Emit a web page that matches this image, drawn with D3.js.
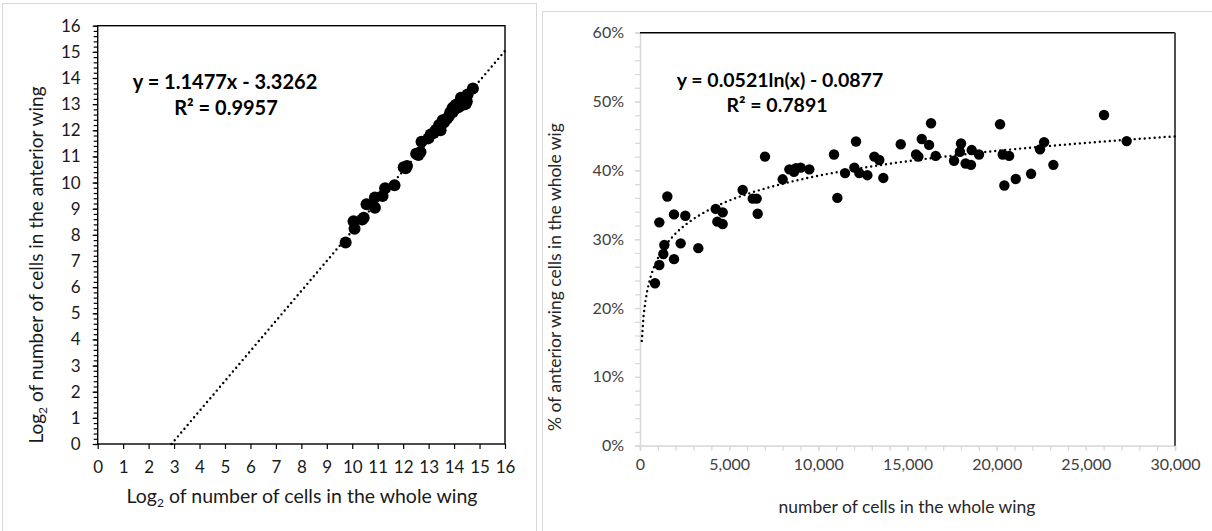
<!DOCTYPE html>
<html>
<head>
<meta charset="utf-8">
<script src="https://cdn.jsdelivr.net/npm/d3@7"></script>
<style>
  body { margin: 0; background: #fff; }
  svg { font-family: Lato, "Open Sans", sans-serif; display: block; }
</style>
</head>
<body>
<div id="svg-container"></div>
<script>
var width = 1212, height = 531;

//  DATA
// left panel: log2 of whole wing cells vs log2 of anterior wing cells
var logWhole    = [9.74, 10.05, 10.09, 10.39, 10.45, 10.56, 10.89, 10.89, 11.19, 11.29, 11.66,
                   12.02, 12.15, 12.1, 12.51, 12.6, 12.68, 12.72, 12.99, 13.08, 13.2, 13.28, 13.41,
                   13.47, 13.55, 13.6, 13.72, 13.8, 13.85, 13.94, 13.95, 14.0, 14.07, 14.1, 14.2,
                   14.2, 14.27, 14.3, 14.34, 14.4, 14.45, 14.47, 14.5, 14.53, 14.74];
var logAnterior = [7.71, 8.52, 8.23, 8.59, 8.65, 9.17, 9.43, 9.04, 9.49, 9.78, 9.9,
                   10.59, 10.63, 10.55, 11.1, 11.05, 11.17, 11.56, 11.69, 11.84, 11.9, 12.01, 12.2,
                   12.0, 12.38, 12.3, 12.44, 12.55, 12.69, 12.85, 12.7, 12.9, 12.98, 12.85, 13.04,
                   12.9, 13.24, 13.1, 12.98, 13.15, 13.0, 13.24, 13.1, 13.37, 13.6];
var leftFit = {slope: 1.1477, intercept: -3.3262};
var leftTicks = d3.range(0, 17);

// right panel: whole wing cells vs fraction in anterior wing
var wholeCells = [841, 1084, 1084, 1308, 1365, 1533, 1907, 1907, 2280, 2540, 3270,
                  4245, 4337, 4636, 4636, 5757, 6320, 6544, 6600, 7010, 8000, 8375, 8636,
                  8749, 9010, 9494, 10879, 11066, 11498, 12020, 12114, 12300, 12750, 13140,
                  13420, 13645, 14620, 15480, 15610, 15800, 16210, 16320, 16580, 17610,
                  17940, 18000, 18260, 18560, 18600, 19010, 20190, 20340, 20430, 20700,
                  21070, 21930, 22430, 22660, 23180, 26020, 27290];
var anteriorPct = [0.236, 0.2625, 0.3245, 0.2785, 0.2915, 0.362, 0.271, 0.336, 0.294, 0.334, 0.287,
                   0.344, 0.3255, 0.339, 0.322, 0.3715, 0.359, 0.359, 0.337, 0.42, 0.387, 0.4015, 0.398,
                   0.403, 0.404, 0.4015, 0.423, 0.36, 0.396, 0.404, 0.442, 0.396, 0.393, 0.42,
                   0.415, 0.389, 0.438, 0.423, 0.42, 0.4455, 0.437, 0.4685, 0.421, 0.414,
                   0.427, 0.439, 0.41, 0.408, 0.4295, 0.423, 0.467, 0.423, 0.378, 0.421,
                   0.3875, 0.395, 0.4305, 0.441, 0.408, 0.4805, 0.4425];
var rightFit = {a: 0.0521, b: -0.0877};
var pctTicks = [0, 0.1, 0.2, 0.3, 0.4, 0.5, 0.6];
var cellTicks = [0, 5000, 10000, 15000, 20000, 25000, 30000];

var svg = d3.select("#svg-container")
  .append("svg")
  .attr("width", width)
  .attr("height", height);

// panel frames
svg.append("rect").attr("x", 2.5).attr("y", 3.5).attr("width", 534).attr("height", 540)
  .attr("fill", "none").attr("stroke", "#d9d9d9");
svg.append("rect").attr("x", 542.5).attr("y", 11.5).attr("width", 700).attr("height", 540)
  .attr("fill", "none").attr("stroke", "#d9d9d9");

function dotted(g, pts, x, y) {
  g.append("path")
    .datum(pts)
    .attr("d", d3.line().x(function(d) { return x(d[0]); }).y(function(d) { return y(d[1]); }))
    .attr("fill", "none")
    .attr("stroke", "#000")
    .attr("stroke-width", 2.4)
    .attr("stroke-linecap", "round")
    .attr("stroke-dasharray", "0 5");
}

//  LEFT PANEL
var xL = d3.scaleLinear().domain([0, 16]).range([97.7, 505]);
var yL = d3.scaleLinear().domain([0, 16]).range([444, 25.7]);
var left = svg.append("g");

// minor ticks on y
left.append("g")
  .attr("transform", "translate(" + xL(0) + ",0)")
  .call(d3.axisLeft(yL).tickValues(d3.range(0, 16.01, 0.2)).tickSize(4).tickFormat(""))
  .call(function(g) { g.select(".domain").remove(); });

left.append("g")
  .attr("transform", "translate(" + xL(0) + ",0)")
  .call(d3.axisLeft(yL).tickValues(leftTicks).tickSize(5).tickPadding(12).tickSizeOuter(0));
left.append("g")
  .attr("transform", "translate(0," + yL(0) + ")")
  .call(d3.axisBottom(xL).tickValues(leftTicks).tickSize(5).tickPadding(12).tickSizeOuter(0));

left.selectAll(".tick line").attr("stroke", "#000").attr("stroke-width", 1.2);
left.selectAll(".tick text").attr("font-size", 17).attr("fill", "#1a1a1a").attr("font-family", "Lato");
left.selectAll(".domain").remove();

left.append("rect")
  .attr("x", xL(0)).attr("y", yL(16))
  .attr("width", xL(16) - xL(0)).attr("height", yL(0) - yL(16))
  .attr("fill", "none").attr("stroke", "#000").attr("stroke-width", 1.4);

var x0 = -leftFit.intercept / leftFit.slope;
dotted(left, [[x0, 0], [16, leftFit.slope * 16 + leftFit.intercept]], xL, yL);

left.selectAll(".dot")
  .data(logWhole)
  .enter().append("circle")
  .attr("class", "dot")
  .attr("cx", function(d) { return xL(d); })
  .attr("cy", function(d, i) { return yL(logAnterior[i]); })
  .attr("r", 6)
  .attr("fill", "#000");

left.append("text").attr("x", 225).attr("y", 89).attr("text-anchor", "middle")
  .attr("font-size", 20).attr("font-weight", "bold").text("y = 1.1477x - 3.3262");
left.append("text").attr("x", 226).attr("y", 115).attr("text-anchor", "middle")
  .attr("font-size", 20).attr("font-weight", "bold").text("R² = 0.9957");

var tx = left.append("text").attr("x", 302).attr("y", 503).attr("text-anchor", "middle")
  .attr("font-size", 19.5).attr("fill", "#1a1a1a");
tx.append("tspan").text("Log");
tx.append("tspan").attr("font-size", 12).attr("dy", 4).text("2");
tx.append("tspan").attr("dy", -4).text(" of number of cells in the whole wing");

var ty = left.append("text").attr("transform", "translate(43,265) rotate(-90)").attr("text-anchor", "middle")
  .attr("font-size", 19).attr("fill", "#1a1a1a");
ty.append("tspan").text("Log");
ty.append("tspan").attr("font-size", 12).attr("dy", 4).text("2");
ty.append("tspan").attr("dy", -4).text(" of number of cells in the anterior wing");

//  RIGHT PANEL
var xR = d3.scaleLinear().domain([0, 30000]).range([640, 1175]);
var yR = d3.scaleLinear().domain([0, 0.6]).range([445.7, 32.7]);
var right = svg.append("g");

right.append("g")
  .attr("transform", "translate(" + xR(0) + ",0)")
  .call(d3.axisLeft(yR).tickValues(d3.range(0, 0.601, 0.02)).tickSize(5).tickFormat(""));
right.append("g")
  .attr("transform", "translate(0," + yR(0) + ")")
  .call(d3.axisBottom(xR).tickValues(d3.range(0, 30001, 1000)).tickSize(5).tickFormat(""));
right.append("g")
  .attr("transform", "translate(" + xR(0) + ",0)")
  .call(d3.axisLeft(yR).tickValues(pctTicks).tickSize(5).tickPadding(11).tickFormat(d3.format(".0%")));
right.append("g")
  .attr("transform", "translate(0," + yR(0) + ")")
  .call(d3.axisBottom(xR).tickValues(cellTicks).tickSize(5).tickPadding(8).tickFormat(d3.format(",")));

right.selectAll(".domain").attr("stroke", "#d9d9d9").attr("stroke-width", 1.3);
right.selectAll(".tick line").attr("stroke", "#d9d9d9").attr("stroke-width", 1.3);
right.selectAll(".tick text").attr("font-size", 16).attr("fill", "#404040").attr("font-family", "Lato");

// top and right border of plot area
right.append("line").attr("x1", xR(0)).attr("x2", xR(30000)).attr("y1", yR(0.6)).attr("y2", yR(0.6))
  .attr("stroke", "#000").attr("stroke-width", 1.4);
right.append("line").attr("x1", xR(30000)).attr("x2", xR(30000)).attr("y1", yR(0.6)).attr("y2", yR(0))
  .attr("stroke", "#505050").attr("stroke-width", 2);

var curve = d3.range(100, 30001, 100).map(function(n) { return [n, rightFit.a * Math.log(n) + rightFit.b]; });
dotted(right, curve, xR, yR);

right.selectAll(".dot")
  .data(wholeCells)
  .enter().append("circle")
  .attr("class", "dot")
  .attr("cx", function(d) { return xR(d); })
  .attr("cy", function(d, i) { return yR(anteriorPct[i]); })
  .attr("r", 5.2)
  .attr("fill", "#000");

right.append("text").attr("x", 780).attr("y", 87).attr("text-anchor", "middle")
  .attr("font-size", 19.5).attr("font-weight", "bold").text("y = 0.0521ln(x) - 0.0877");
right.append("text").attr("x", 777).attr("y", 112).attr("text-anchor", "middle")
  .attr("font-size", 19.5).attr("font-weight", "bold").text("R² = 0.7891");

right.append("text").attr("x", 907).attr("y", 513).attr("text-anchor", "middle")
  .attr("font-size", 17.5).attr("fill", "#262626").text("number of cells in the whole wing");
right.append("text").attr("transform", "translate(561,277) rotate(-90)").attr("text-anchor", "middle")
  .attr("font-size", 17.5).attr("fill", "#262626").text("% of anterior wing cells in the whole wig");
</script>
</body>
</html>
